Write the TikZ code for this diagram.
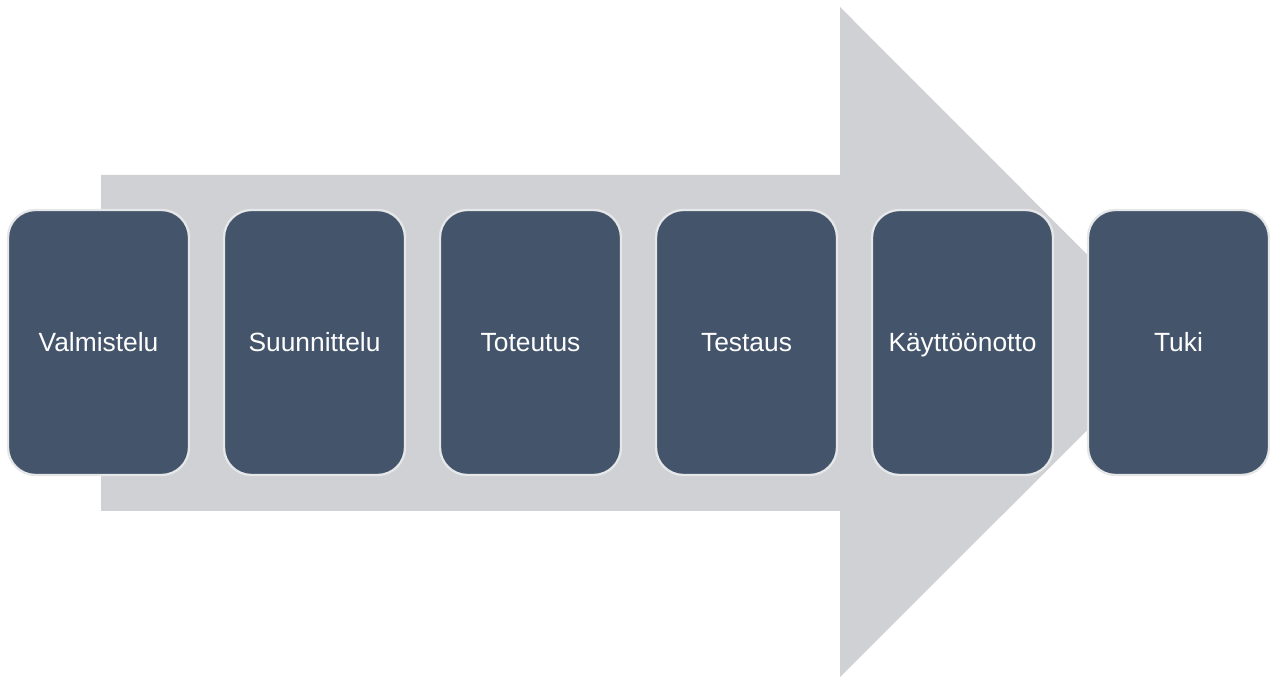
\documentclass[tikz,border=0pt]{standalone}
\usepackage{fontspec}
\setmainfont{Liberation Sans}
\definecolor{phasefill}{HTML}{44546A}
\definecolor{phaseline}{HTML}{E6E7E8}
\definecolor{arrowgray}{HTML}{D0D1D5}
\begin{document}
\begin{tikzpicture}[
  phase/.style={draw=phaseline, line width=1.3pt, fill=phasefill, rounded corners=0.55cm,
    minimum width=3.62cm, minimum height=5.3cm, text height=12pt, text depth=2pt,
    text=white, font=\fontsize{15}{18}\selectfont}]
  \useasboundingbox (0,0) rectangle (25.4,13.54);
  \fill[arrowgray] (2.02,3.32) -- (2.02,10.04) -- (16.8,10.04) -- (16.8,13.4)
    -- (23.5,6.69) -- (16.8,0) -- (16.8,3.32) -- cycle;
  \node[phase] (valm) at (1.97,6.69) {Valmistelu};
  \node[phase] (suun) at (6.29,6.69) {Suunnittelu};
  \node[phase] (tote) at (10.61,6.69) {Toteutus};
  \node[phase] (test) at (14.93,6.69) {Testaus};
  \node[phase] (kayt) at (19.25,6.69) {Käyttöönotto};
  \node[phase] (tuki) at (23.57,6.69) {Tuki};
\end{tikzpicture}
\end{document}
